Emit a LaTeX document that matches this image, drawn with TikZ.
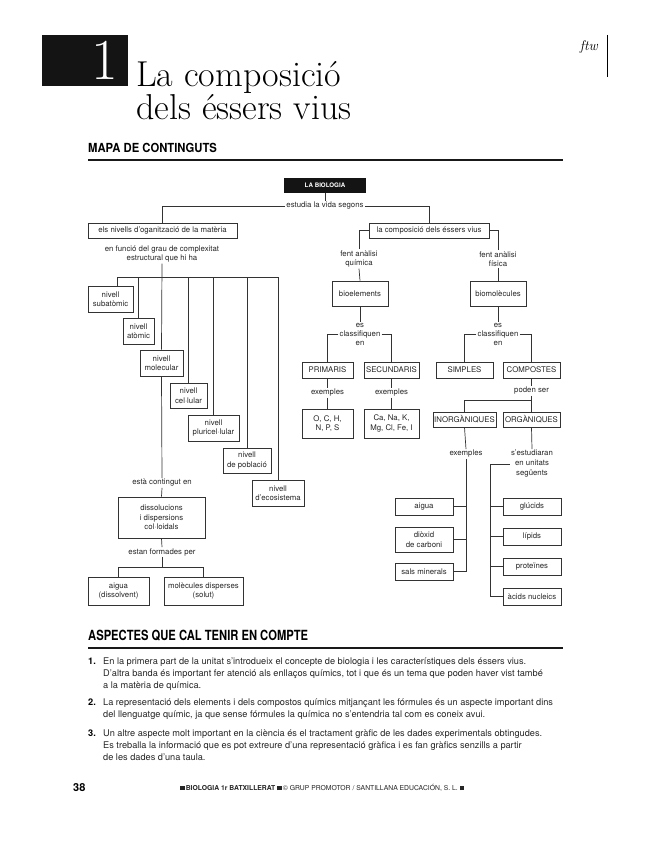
\documentclass[tikz,border=0pt]{standalone}
\usepackage{fontspec}
\newfontfamily\hv{TeX Gyre Heros}
\usetikzlibrary{calc}
\tikzset{
  dg/.style={font=\hv\fontsize{7.8}{9.5}\selectfont, text=black!85, align=center, inner sep=1pt},
  bx/.style={dg, draw=black!80, line width=0.7pt},
  ln/.style={draw=black!80, line width=0.7pt},
  body/.style={anchor=base west, inner sep=0pt, font=\hv\fontsize{9.2}{12}\selectfont, text=black!85},
  num/.style={anchor=base west, inner sep=0pt, font=\hv\bfseries\fontsize{9.2}{12}\selectfont},
  head/.style={anchor=base west, inner sep=0pt, font=\hv\bfseries\fontsize{14}{14}\selectfont},
  rulel/.style={line width=1.8pt, draw=black!90},
  ttl/.style={anchor=base west, inner sep=0pt, font=\fontsize{36}{36}\selectfont},
}
\newcommand{\sq}{\rule{4.5pt}{4.5pt}}
\begin{document}
\begin{tikzpicture}[x=1pt,y=-1pt]
\useasboundingbox (0,0) rectangle (651,848);
\fill[white] (0,0) rectangle (651,848);
% ---------- header ----------
\fill[black!92] (42,35) rectangle (128,86);
\node[anchor=base east, inner sep=0pt, text=white, font=\fontsize{58}{58}\selectfont] (one) at (118,80) {1};
\node[ttl] (t1) at (136,87) {La composició};
\node[ttl] (t2) at (136,120) {dels éssers vius};
\node[anchor=base east, inner sep=0pt, font=\itshape\fontsize{14}{14}\selectfont] (ftw) at (598,51) {ftw};
\coordinate (vt) at (607,35);
\coordinate (vb) at (607,77);
\draw[line width=0.8pt] (vt) -- (vb);
\node[head] (mapa) at (88,152) {\scalebox{0.9}[1]{\fontsize{12.5}{12.5}\selectfont MAPA DE CONTINGUTS}};
\coordinate (r1a) at (88,160);
\coordinate (r1b) at (563,160);
\draw[rulel] (r1a) -- (r1b);
% ---------- diagram: top ----------
\node[dg, fill=black!92, text=white, minimum width=82pt, minimum height=15pt, font=\hv\bfseries\fontsize{6.2}{7}\selectfont] (bio) at (325,185.5) {LA BIOLOGIA};
\node[dg] (estudia) at (325,206) {estudia la vida segons};
\node[bx, minimum width=149pt, minimum height=15pt] (niv) at (162.5,230.5) {els nivells d’oganització de la matèria};
\node[bx, minimum width=120pt, minimum height=15pt] (comp) at (429,230.5) {la composició dels éssers vius};
\draw[ln] (bio.south) -- (estudia.north);
\draw[ln] (estudia.west) -| (niv.north);
\draw[ln] (estudia.east) -| (comp.north);
% ---------- right branch ----------
\node[dg] (fq) at (359,259) {fent anàlisi\\química};
\node[dg] (ff) at (498,259) {fent anàlisi\\física};
\draw[ln] (comp.west) -| (fq.north);
\draw[ln] (comp.east) -| (ff.north);
\node[bx, minimum width=56pt, minimum height=25pt] (bioel) at (360,293.5) {bioelements};
\node[bx, minimum width=56pt, minimum height=25pt] (biomol) at (498,293.5) {biomolècules};
\draw[ln] (fq.south) -- (bioel.north);
\draw[ln] (ff.south) -- (biomol.north);
\node[dg, font=\hv\fontsize{7.8}{9}\selectfont] (cls1) at (360,334) {es\\classifiquen\\en};
\node[dg, font=\hv\fontsize{7.8}{9}\selectfont] (cls2) at (498,334) {es\\classifiquen\\en};
\draw[ln] (bioel.south) -- (cls1.north);
\draw[ln] (biomol.south) -- (cls2.north);
\node[bx, minimum width=51pt, minimum height=16pt] (prim) at (327.5,370) {PRIMARIS};
\node[bx, minimum width=55pt, minimum height=16pt] (secu) at (391.5,370) {SECUNDARIS};
\node[bx, minimum width=57pt, minimum height=16pt] (simp) at (464.5,370) {SIMPLES};
\node[bx, minimum width=57pt, minimum height=16pt] (compo) at (531.5,370) {COMPOSTES};
\draw[ln] (cls1.west) -| (prim.north);
\draw[ln] (cls1.east) -| (secu.north);
\draw[ln] (cls2.west) -| (simp.north);
\draw[ln] (cls2.east) -| (compo.north);
\node[dg] (ex1) at (327.5,393) {exemples};
\node[dg] (ex2) at (391.5,393) {exemples};
\draw[ln] (prim.south) -- (ex1.north);
\draw[ln] (secu.south) -- (ex2.north);
\node[bx, minimum width=51pt, minimum height=29pt] (och) at (327.5,423.5) {O, C, H,\\N, P, S};
\node[bx, minimum width=55pt, minimum height=29pt] (cana) at (391.5,423.5) {Ca, Na, K,\\Mg, Cl, Fe, I};
\draw[ln] (ex1.south) -- (och.north);
\draw[ln] (ex2.south) -- (cana.north);
\node[dg] (poden) at (531.5,391) {poden ser};
\draw[ln] (compo.south) -- (poden.north);
\coordinate (pj) at (531.5,400);
\node[bx, minimum width=63pt, minimum height=15pt] (inorg) at (464.5,419.5) {INORGÀNIQUES};
\node[bx, minimum width=57pt, minimum height=15pt] (org) at (531.5,419.5) {ORGÀNIQUES};
\draw[ln] (poden.south) -- (pj) -| (inorg.north);
\draw[ln] (pj) -- (org.north);
\node[dg] (ex3) at (466,454) {exemples};
\node[dg, font=\hv\fontsize{7.8}{10}\selectfont] (estud) at (532,464) {s’estudiaran\\en unitats\\següents};
\draw[ln] (inorg.south) -- (ex3.north);
\draw[ln] (org.south) -- (estud.north);
\node[bx, minimum width=58pt, minimum height=17pt] (aigua) at (424,506.5) {aigua};
\node[bx, minimum width=58pt, minimum height=25pt] (diox) at (424,539.5) {diòxid\\de carboni};
\node[bx, minimum width=58pt, minimum height=17pt] (sals) at (424,571.5) {sals minerals};
\draw[ln] (ex3.south) |- (sals.east);
\draw[ln] (aigua.east) -- (aigua.east -| ex3.south);
\draw[ln] (diox.east) -- (diox.east -| ex3.south);
\node[bx, minimum width=58pt, minimum height=17pt] (gluc) at (532,506.5) {glúcids};
\node[bx, minimum width=58pt, minimum height=17pt] (lip) at (532,536.5) {lípids};
\node[bx, minimum width=58pt, minimum height=17pt] (prot) at (532,566.5) {proteïnes};
\node[bx, minimum width=58pt, minimum height=17pt] (acid) at (532,596.5) {àcids nucleics};
\coordinate (rsp) at (490,465);
\draw[ln] (estud.west) -| (acid.west -| rsp) -- (acid.west);
\draw[ln] (gluc.west) -- (gluc.west -| rsp);
\draw[ln] (lip.west) -- (lip.west -| rsp);
\draw[ln] (prot.west) -- (prot.west -| rsp);
% ---------- left branch ----------
\node[dg] (funcio) at (162,254) {en funció del grau de complexitat\\estructural que hi ha};
\coordinate (hb) at (162,277);
\node[bx, minimum width=45pt, minimum height=26pt] (n1) at (110.5,299) {nivell\\subatòmic};
\node[bx, minimum width=31pt, minimum height=26pt] (n2) at (138.5,331) {nivell\\atòmic};
\node[bx, minimum width=43pt, minimum height=26pt] (n3) at (161.5,363) {nivell\\molecular};
\node[bx, minimum width=37pt, minimum height=25pt] (n4) at (188.5,395.5) {nivell\\cel·lular};
\node[bx, minimum width=51pt, minimum height=26pt] (n5) at (213.5,428) {nivell\\pluricel·lular};
\node[bx, minimum width=48pt, minimum height=25pt] (n6) at (247,460.5) {nivell\\de població};
\node[bx, minimum width=52pt, minimum height=26pt] (n7) at (278,493) {nivell\\d’ecosistema};
\coordinate (n1d) at (117,277);
\draw[ln] (funcio.south) -- (n3.north);
\draw[ln] (n1d) -- (n7.north |- hb);
\draw[ln] (n1d) -- (n1d |- n1.north);
\draw[ln] (n2.north |- hb) -- (n2.north);
\draw[ln] (n4.north |- hb) -- (n4.north);
\draw[ln] (n5.north |- hb) -- (n5.north);
\draw[ln] (n6.north |- hb) -- (n6.north);
\draw[ln] (n7.north |- hb) -- (n7.north);
\node[dg] (cont) at (162,483) {està contingut en};
\node[bx, minimum width=87pt, minimum height=41pt] (diss) at (161.5,517.5) {dissolucions\\i dispersions\\col·loidals};
\node[dg] (form) at (162,552) {estan formades per};
\coordinate (fj) at (162,567);
\node[bx, minimum width=61pt, minimum height=28pt] (aig2) at (118.5,591) {aigua\\(dissolvent)};
\node[bx, minimum width=79pt, minimum height=28pt] (molec) at (203.5,591) {molècules disperses\\(solut)};
\draw[ln] (n3.south) -- (cont.north);
\draw[ln] (cont.south) -- (diss.north);
\draw[ln] (diss.south) -- (form.north);
\draw[ln] (form.south) -- (fj);
\draw[ln] (aig2.north) -- (aig2.north |- fj) -- (molec.north |- fj) -- (molec.north);
% ---------- aspects ----------
\node[head] (asp) at (88,640) {\scalebox{0.8}[1]{ASPECTES QUE CAL TENIR EN COMPTE}};
\coordinate (r2a) at (88,648);
\coordinate (r2b) at (563,648);
\draw[rulel] (r2a) -- (r2b);
\node[num] (k1) at (88,664) {1.};
\node[body] (a1) at (103,664) {En la primera part de la unitat s’introdueix el concepte de biologia i les característiques dels éssers vius.};
\node[body] (a2) at (103,676) {D’altra banda és important fer atenció als enllaços químics, tot i que és un tema que poden haver vist també};
\node[body] (a3) at (103,688) {a la matèria de química.};
\node[num] (k2) at (88,705) {2.};
\node[body] (b1) at (103,705) {La representació dels elements i dels compostos químics mitjançant les fórmules és un aspecte important dins};
\node[body] (b2) at (103,717) {del llenguatge químic, ja que sense fórmules la química no s’entendria tal com es coneix avui.};
\node[num] (k3) at (88,736) {3.};
\node[body] (c1) at (103,736) {Un altre aspecte molt important en la ciència és el tractament gràfic de les dades experimentals obtingudes.};
\node[body] (c2) at (103,748) {Es treballa la informació que es pot extreure d’una representació gràfica i es fan gràfics senzills a partir};
\node[body] (c3) at (103,760) {de les dades d’una taula.};
% ---------- footer ----------
\node[anchor=base west, inner sep=0pt, font=\hv\bfseries\fontsize{11}{11}\selectfont] (pg) at (73,791) {38};
\node[anchor=base west, inner sep=0pt, font=\hv\fontsize{6.8}{7}\selectfont, text=black!85] (foot) at (180,790) {\textbf{\sq\,BIOLOGIA 1r BATXILLERAT \sq}\,© GRUP PROMOTOR / SANTILLANA EDUCACIÓN, S. L. \sq};
\end{tikzpicture}
\end{document}
